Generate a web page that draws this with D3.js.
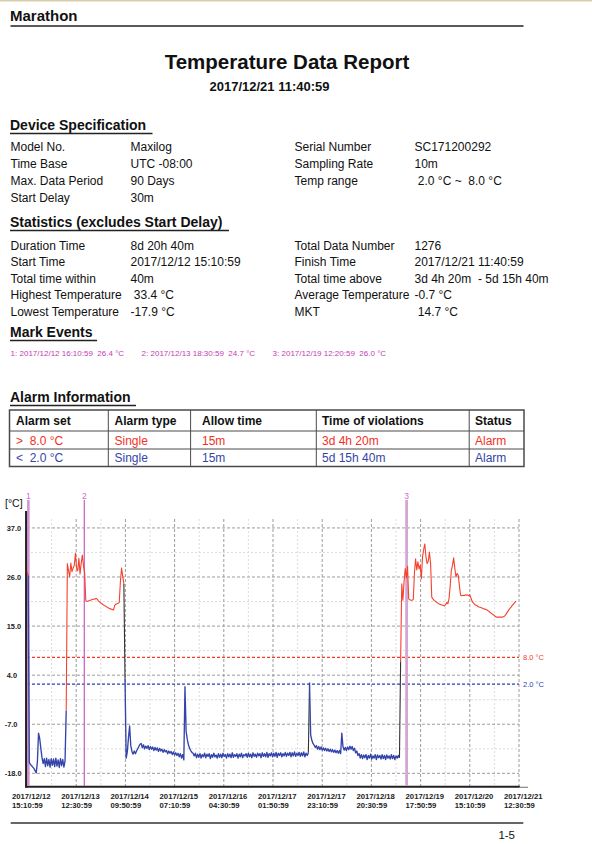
<!DOCTYPE html>
<html><head><meta charset="utf-8">
<script src="https://cdn.jsdelivr.net/npm/d3@7/dist/d3.min.js"></script>
<style>
html,body{margin:0;padding:0;background:#fff;}
svg{display:block;font-family:"Liberation Sans",Arial,Helvetica,sans-serif;}
text{white-space:pre;}
</style></head><body>
<svg id="page" width="592" height="844"></svg>
<script>
// ---------------- DATA ----------------
const companyName = "Marathon";
const reportTitle = "Temperature Data Report";
const reportDate = "2017/12/21 11:40:59";

const deviceLabelsLeft  = ["Model No.", "Time Base", "Max. Data Period", "Start Delay"];
const deviceValuesLeft  = ["Maxilog", "UTC -08:00", "90 Days", "30m"];
const deviceLabelsRight = ["Serial Number", "Sampling Rate", "Temp range"];
const deviceValuesRight = ["SC171200292", "10m", " 2.0 °C ~  8.0 °C"];

const statLabelsLeft  = ["Duration Time", "Start Time", "Total time within", "Highest Temperature", "Lowest Temperature"];
const statValuesLeft  = ["8d 20h 40m", "2017/12/12 15:10:59", "40m", " 33.4 °C", "-17.9 °C"];
const statLabelsRight = ["Total Data Number", "Finish Time", "Total time above", "Average Temperature", "MKT"];
const statValuesRight = ["1276", "2017/12/21 11:40:59", "3d 4h 20m  - 5d 15h 40m", "-0.7 °C", " 14.7 °C"];

const markEventTexts = ["1: 2017/12/12 16:10:59  26.4 °C", "2: 2017/12/13 18:30:59  24.7 °C", "3: 2017/12/19 12:20:59  26.0 °C"];

const alarmHeaders = ["Alarm set", "Alarm type", "Allow time", "Time of violations", "Status"];
const alarmRowHigh = [">  8.0 °C", "Single", "15m", "3d 4h 20m", "Alarm"];
const alarmRowLow  = ["<  2.0 °C", "Single", "15m", "5d 15h 40m", "Alarm"];

const alarmHigh = 8.0, alarmLow = 2.0;
const alarmLineLabels = ["8.0 °C", "2.0 °C"];

// x axis: hours after 2017/12/12 15:10:59, one tick every 21h20m
const xTickHours = [0, 21.333, 42.667, 64, 85.333, 106.667, 128, 149.333, 170.667, 192, 213.333];
const xTickDates = ["2017/12/12","2017/12/13","2017/12/14","2017/12/15","2017/12/16","2017/12/17","2017/12/17","2017/12/18","2017/12/19","2017/12/20","2017/12/21"];
const xTickTimes = ["15:10:59","12:30:59","09:50:59","07:10:59","04:30:59","01:50:59","23:10:59","20:30:59","17:50:59","15:10:59","12:30:59"];
const yTicks = [-18, -7, 4, 15, 26, 37];

const markerHours = [0.6, 24.85, 164.6];
const markerNames = ["1", "2", "3"];

// temperature readings, one every 0.5 h from start
const sampleStepHours = 0.5;
const temps = [
 27.2, 26.4, -15.6, -16.0, -16.3, -16.6, -16.9, -17.4, -17.9, -15.5,      // 0-9
 -9.0, -10.2, -12.4, -14.5, -15.8, -14.7, -16.5, -14.6, -16.3, -14.9,     // 10-19
 -16.6, -14.7, -16.2, -14.8, -16.5, -14.6, -16.4, -15.0, -16.7, -14.7,    // 20-29
 -16.3, -14.9, -16.6, -15.2, -4.0, 29.0, 27.5, 26.0, 29.1, 27.2,          // 30-39
 28.0, 28.6, 31.3, 28.0, 27.4, 30.2, 26.7, 29.1, 30.9, 28.5,              // 40-49
 27.0, 20.6, 20.5, 20.6, 20.7, 20.8, 20.9, 21.0, 21.0, 21.1,              // 50-59
 21.2, 21.0, 20.6, 20.4, 20.2, 20.0, 19.8, 19.6, 19.5, 19.3,              // 60-69
 19.2, 19.0, 18.9, 18.8, 18.7, 18.6, 19.6, 19.9, 20.0, 20.1,              // 70-79
 20.3, 25.0, 28.0, 26.2, 24.5, 3.3, -14.6, -13.2, -10.0, -7.4,            // 80-89
 -11.8, -13.1, -13.7, -13.0, -13.6, -13.0, -12.5, -12.0, -11.5, -11.3,    // 90-99
 -12.3, -11.6, -12.5, -11.9, -12.4, -11.8, -12.7, -12.0, -12.6, -12.1,    // 100-109
 -12.9, -12.2, -12.8, -12.3, -13.1, -12.4, -13.0, -12.6, -13.3, -12.7,    // 110-119
 -13.2, -12.9, -13.6, -13.0, -13.5, -13.1, -13.8, -13.2, -13.9, -13.4,    // 120-129
 -14.0, -13.5, -14.3, -13.6, -14.6, -13.8, -15.0, 1.4, -8.6, -10.4,       // 130-139
 -11.6, -12.4, -12.9, -13.3, -13.5, -14.1, -13.5, -14.5, -13.7, -14.4,    // 140-149
 -13.6, -14.6, -13.8, -14.3, -13.5, -14.5, -13.7, -14.2, -13.6, -14.7,    // 150-159
 -13.8, -14.4, -13.5, -14.3, -13.9, -14.6, -13.6, -14.4, -13.7, -14.5,    // 160-169
 -13.5, -14.2, -13.8, -14.6, -13.6, -14.3, -13.7, -14.5, -13.4, -14.4,    // 170-179
 -13.8, -14.2, -13.6, -14.6, -13.7, -14.3, -13.5, -14.5, -13.8, -14.1,    // 180-189
 -13.6, -14.4, -13.5, -14.3, -13.7, -14.5, -13.4, -14.2, -13.7, -14.4,    // 190-199
 -13.5, -14.1, -13.6, -14.5, -13.4, -14.2, -13.6, -14.3, -13.3, -14.4,    // 200-209
 -13.6, -14.1, -13.4, -14.3, -13.5, -14.2, -13.3, -14.4, -13.5, -14.0,    // 210-219
 -13.4, -14.3, -13.6, -14.1, -13.3, -14.2, -13.5, -14.0, -13.3, -14.3,    // 220-229
 -13.4, -14.1, -13.2, -14.2, -13.5, -14.0, -13.3, -14.2, -13.4, -14.1,    // 230-239
 -13.2, -14.3, -13.5, -14.0, -13.4, 2.3, -9.4, -10.6, -11.3, -11.7,       // 240-249
 -12.2, -11.8, -12.6, -12.0, -12.7, -12.1, -12.8, -12.3, -12.9, -12.4,    // 250-259
 -13.0, -12.5, -13.1, -12.6, -13.2, -12.7, -13.3, -12.8, -13.4, -12.9,    // 260-269
 -13.5, -12.9, -13.6, -9.0, -12.0, -12.8, -12.2, -12.9, -12.1, -12.7,     // 270-279
 -11.9, -12.6, -12.0, -12.9, -12.4, -13.4, -13.0, -14.0, -13.6, -14.6,    // 280-289
 -13.8, -14.7, -13.9, -14.5, -13.8, -14.9, -14.0, -14.6, -13.7, -14.8,    // 290-299
 -14.1, -14.6, -13.8, -14.9, -13.9, -14.5, -14.0, -14.8, -13.8, -14.7,    // 300-309
 -14.0, -14.9, -13.9, -14.6, -14.1, -14.8, -13.8, -14.7, -14.0, -14.9,    // 310-319
 -14.1, -14.6, -14.0, -14.5, 7.1, 24.5, 20.8, 25.0, 27.9, 25.8,           // 320-329
 28.4, 21.1, 20.9, 20.8, 20.8, 21.0, 27.0, 30.1, 27.6, 29.4,              // 330-339
 27.8, 28.6, 25.6, 30.5, 32.2, 33.4, 30.5, 29.0, 29.6, 31.6,              // 340-349
 29.0, 21.5, 21.1, 20.8, 20.6, 20.4, 20.2, 20.0, 19.9, 19.8,              // 350-359
 19.7, 19.6, 19.5, 19.8, 20.3, 20.0, 21.2, 24.0, 27.5, 28.6,              // 360-369
 30.3, 28.0, 26.0, 26.8, 26.4, 24.0, 21.9, 21.8, 21.9, 21.8,              // 370-379
 22.0, 21.9, 22.0, 21.8, 22.0, 21.3, 20.6, 20.2, 19.9, 19.7,              // 380-389
 19.6, 19.4, 19.3, 19.2, 19.1, 19.0, 18.9, 18.8, 18.7, 18.6,              // 390-399
 18.4, 18.2, 18.0, 17.8, 17.6, 17.4, 17.2, 17.0, 17.0, 17.0,              // 400-409
 17.0, 17.0, 17.0, 17.1, 17.2, 17.5, 17.9, 18.3, 18.7, 19.0,              // 410-419
 19.3, 19.7, 20.0, 20.3, 20.6                                             // 420-424
];

const pageLabel = "1-5";

// ---------------- DRAW ----------------
const RED = "#f5412e", BLUE = "#3345aa", INK = "#111";
const svg = d3.select("#page");
svg.append("rect").attr("width", 592).attr("height", 844).attr("fill", "#fff");
svg.append("rect").attr("x", 0).attr("y", 0).attr("width", 592).attr("height", 1.5).attr("fill", "#d8ccaa");

function txt(x, y, s, size, o = {}) {
  return svg.append("text").attr("x", x).attr("y", y).attr("font-size", size)
    .attr("font-weight", o.bold ? "bold" : "normal").attr("fill", o.fill || INK)
    .attr("text-anchor", o.anchor || "start").text(s);
}
function rule(x1, x2, yy, w, c) {
  svg.append("line").attr("x1", x1).attr("x2", x2).attr("y1", yy).attr("y2", yy)
    .attr("stroke", c || "#222").attr("stroke-width", w);
}

// header
txt(10, 20.5, companyName, 15, {bold: true});
rule(10.5, 523.5, 26, 1.4);
txt(287, 69, reportTitle, 20.5, {bold: true, anchor: "middle"});
txt(269.5, 91, reportDate, 13, {bold: true, anchor: "middle"});

function heading(s, yb, ulEnd) {
  txt(10, yb, s, 14, {bold: true});
  rule(10, ulEnd, yb + 3.5, 1.5);
}

// device spec
heading("Device Specification", 130, 152.5);
const devRows = [150.5, 167.5, 184.5, 201.5];
deviceLabelsLeft.forEach((s, i) => txt(10.5, devRows[i], s, 12));
deviceValuesLeft.forEach((s, i) => txt(130.5, devRows[i], s, 12));
deviceLabelsRight.forEach((s, i) => txt(294.5, devRows[i], s, 12));
deviceValuesRight.forEach((s, i) => txt(414.5, devRows[i], s, 12));

// statistics
heading("Statistics (excludes Start Delay)", 227, 229);
const statRows = [249.5, 266, 282.5, 299, 315.5];
statLabelsLeft.forEach((s, i) => txt(10.5, statRows[i], s, 12));
statValuesLeft.forEach((s, i) => txt(130.5, statRows[i], s, 12));
const rightLabelEnds = statLabelsRight.map((s, i) => {
  const t = txt(294.5, statRows[i], s, 12);
  return 294.5 + t.node().getComputedTextLength();
});
statValuesRight.forEach((s, i) => txt(Math.max(414.5, rightLabelEnds[i] + 1), statRows[i], s, 12));

// mark events
heading("Mark Events", 337, 97);
const markX = [10.6, 141.6, 272.6];
markEventTexts.forEach((s, i) => txt(markX[i], 355.5, s, 8, {fill: "#c23cb2"}));

// alarm information
heading("Alarm Information", 402, 136);
const tL = 9.5, tR = 524, tRows = [410, 431, 449, 466.5];
const colBorders = [108.3, 190.6, 316.3, 469.2];
const colTextX = [16, 114.5, 202, 322, 475];
svg.append("rect").attr("x", tL).attr("y", tRows[0]).attr("width", tR - tL).attr("height", tRows[3] - tRows[0])
  .attr("fill", "none").attr("stroke", "#4a4a4a").attr("stroke-width", 1.5);
[tRows[1], tRows[2]].forEach(yy => rule(tL, tR, yy, 1, "#4a4a4a"));
colBorders.forEach(cx => svg.append("line").attr("x1", cx).attr("x2", cx).attr("y1", tRows[0]).attr("y2", tRows[3])
  .attr("stroke", "#4a4a4a").attr("stroke-width", 1));
alarmHeaders.forEach((s, i) => txt(colTextX[i], 425, s, 12, {bold: true}));
alarmRowHigh.forEach((s, i) => txt(colTextX[i], 444.5, s, 12, {fill: "#f2301f"}));
alarmRowLow.forEach((s, i) => txt(colTextX[i], 462, s, 12, {fill: "#3445a8"}));

// ---------------- CHART ----------------
const x = d3.scaleLinear().domain([0, 213.333]).range([27, 519]);
const y = d3.scaleLinear().domain([-21, 39]).range([786.7, 519]);
const gTop = 519, gBot = 786;

const grid = svg.append("g");
const minorX = d3.pairs(xTickHours).map(p => (p[0] + p[1]) / 2);
const minorY = d3.pairs(yTicks).map(p => (p[0] + p[1]) / 2);
grid.selectAll(".mx").data(minorX).join("line")
  .attr("x1", d => x(d)).attr("x2", d => x(d)).attr("y1", gTop).attr("y2", gBot)
  .attr("stroke", "#dcdcdc").attr("stroke-dasharray", "2,2");
grid.selectAll(".my").data(minorY).join("line")
  .attr("x1", x(0)).attr("x2", x(213.333)).attr("y1", d => y(d)).attr("y2", d => y(d))
  .attr("stroke", "#dcdcdc").attr("stroke-dasharray", "2,2");
grid.selectAll(".Mx").data(xTickHours.slice(1)).join("line")
  .attr("x1", d => x(d)).attr("x2", d => x(d)).attr("y1", gTop).attr("y2", gBot)
  .attr("stroke", "#9c9c9c").attr("stroke-dasharray", "3,2");
grid.selectAll(".My").data(yTicks).join("line")
  .attr("x1", x(0)).attr("x2", x(213.333)).attr("y1", d => y(d)).attr("y2", d => y(d))
  .attr("stroke", "#9c9c9c").attr("stroke-dasharray", "3,2");

// alarm limit lines
const limits = [alarmHigh, alarmLow], limitColors = ["#f53a28", "#2b3fb5"];
limits.forEach((v, i) => {
  svg.append("line").attr("x1", x(0)).attr("x2", x(213.333)).attr("y1", y(v)).attr("y2", y(v))
    .attr("stroke", limitColors[i]).attr("stroke-width", 1.3).attr("stroke-dasharray", "3,2");
  txt(523, y(v) + 2.7, alarmLineLabels[i], 7.5, {fill: limitColors[i]});
});

// axes
svg.append("line").attr("x1", 26.3).attr("x2", 26.3).attr("y1", 511).attr("y2", 787.5)
  .attr("stroke", "#222").attr("stroke-width", 2.5);
rule(25, 520, 786.8, 2, "#222");
rule(519, 528, 787.3, 1.2, "#888");
txt(5, 507, "[°C]", 10.5);
yTicks.forEach(v => txt(4.7, y(v) + 2.7, (v >= 0 ? " " : "") + v.toFixed(1), 7.4, {bold: true, fill: "#222"}));
xTickHours.forEach((h, i) => {
  txt(x(h) - 15, 799, xTickDates[i], 7.7, {bold: true, fill: "#222"});
  txt(x(h) - 15, 807.5, xTickTimes[i], 7.7, {bold: true, fill: "#222"});
});

// markers
const mWidths = [2.5, 1.2, 2.8], mColors = ["#d092d0", "#c45ec4", "#d5a5d5"];
markerHours.forEach((h, i) => {
  svg.append("line").attr("x1", x(h)).attr("x2", x(h)).attr("y1", 500).attr("y2", 786)
    .attr("stroke", mColors[i]).attr("stroke-width", mWidths[i]);
  txt(x(h), 498.5, markerNames[i], 8.5, {fill: "#c870c8", anchor: "middle"});
});

// data line, each segment coloured by its end reading
const pts = temps.map((v, i) => ({h: i * sampleStepHours, v}));
const colorOf = v => v > alarmHigh ? RED : (v < alarmLow ? BLUE : "#333");
const runs = [];
let cur = null;
for (let i = 1; i < pts.length; i++) {
  const c = colorOf(pts[i].v);
  if (!cur || cur.c !== c) { cur = {c, pts: [pts[i - 1]]}; runs.push(cur); }
  cur.pts.push(pts[i]);
}
const line = d3.line().x(d => x(d.h)).y(d => y(d.v));
svg.append("g").selectAll("path").data(runs).join("path")
  .attr("d", d => line(d.pts)).attr("fill", "none").attr("stroke", d => d.c)
  .attr("stroke-width", d => d.c === BLUE ? 1.35 : 1.1).attr("stroke-linejoin", "round");

// footer
rule(10.7, 523.3, 823, 1.5, "#333");
txt(515, 839, pageLabel, 11.5, {anchor: "end"});
</script>
</body></html>
